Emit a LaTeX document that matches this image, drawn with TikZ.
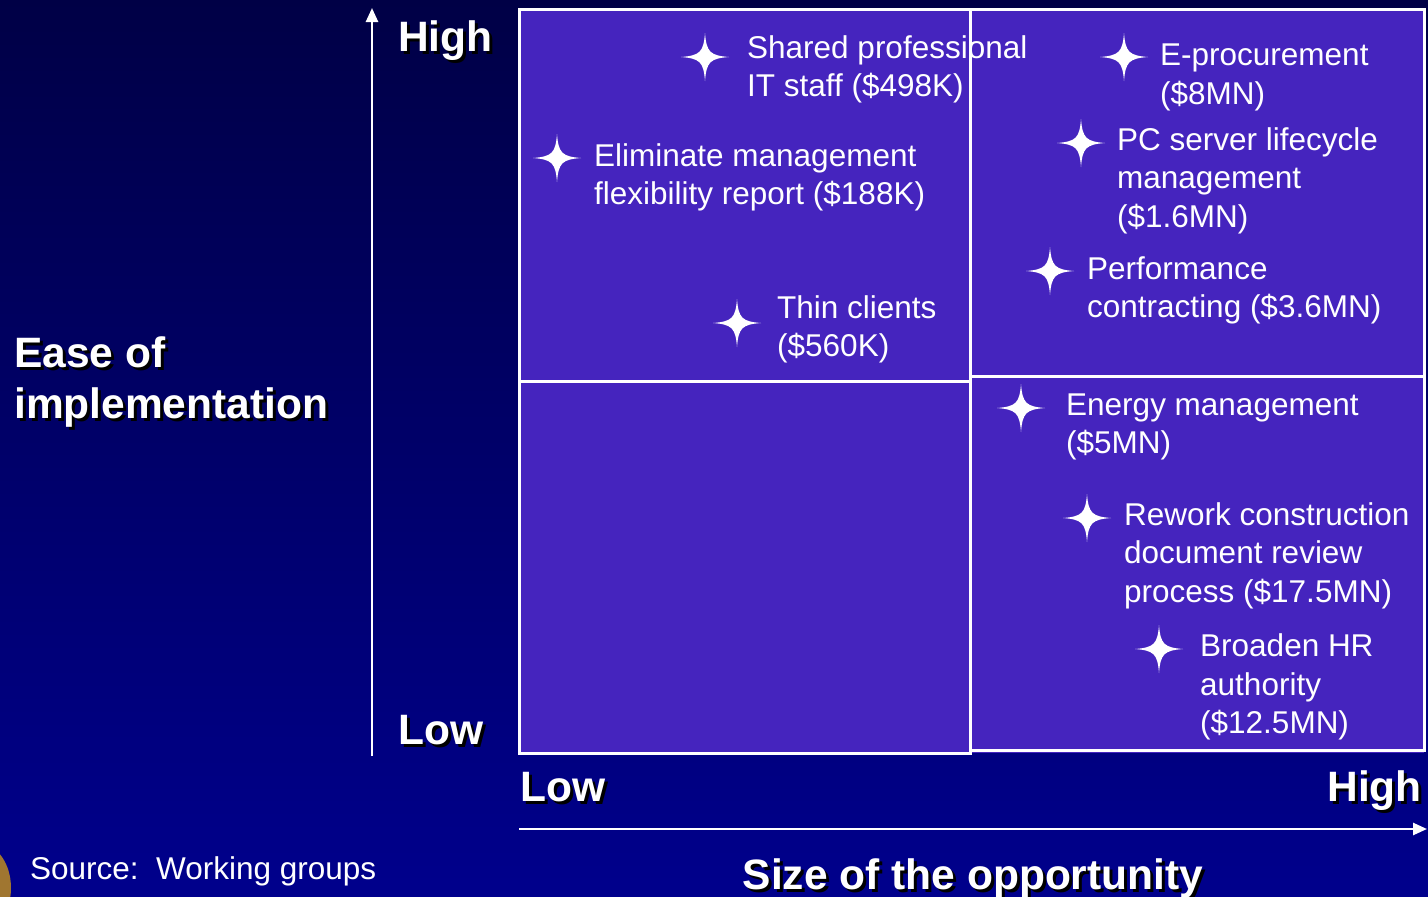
\documentclass[tikz,border=0pt]{standalone}
\usepackage{fontspec}
\setmainfont{Liberation Sans}
\usetikzlibrary{arrows.meta}

\definecolor{quadfill}{RGB}{69,36,190}
\definecolor{bgtop}{RGB}{0,0,70}
\definecolor{bgbot}{RGB}{0,0,140}
\definecolor{cornerbrown}{RGB}{160,118,48}

\tikzset{
  spark/.pic={
    \fill[white] (0,-24) .. controls (1.5,-5) and (5,-1.5) .. (24,0)
      .. controls (5,1.5) and (1.5,5) .. (0,24)
      .. controls (-1.5,5) and (-5,1.5) .. (-24,0)
      .. controls (-5,-1.5) and (-1.5,-5) .. (0,-24) -- cycle;
  },
  item/.style={anchor=base west, inner sep=0pt, align=left, text=white,
    font=\fontsize{31.5}{38.5}\selectfont},
  biglabel/.style={inner sep=0pt, align=left, text=white,
    font=\fontsize{42.5}{51}\selectfont\bfseries},
  quadline/.style={draw=white, line width=3pt},
  axis/.style={draw=white, line width=2.5pt, -{Triangle[length=14pt, width=12pt]}},
}

% bold label with a black drop shadow
\newcommand{\shadowlabel}[4]{%
  \node[biglabel, text=black, anchor=#3, xshift=3pt, yshift=-3pt] at (#2) {#4};
  \node[biglabel, anchor=#3] (#1) at (#2) {#4};}

\begin{document}
\begin{tikzpicture}[x=1pt, y=-1pt]
  \useasboundingbox (0,0) rectangle (1428,897);
  \shade[top color=bgtop, bottom color=bgbot] (0,0) rectangle (1428,897);
  \begin{scope}
    \clip (0,0) rectangle (1428,897);
    \fill[cornerbrown] (-20,888) ellipse [x radius=31, y radius=44];
  \end{scope}

  % quadrants
  \fill[quadfill] (519,9) rectangle (1424,753);

  % top left (anchor is the base of the last line)
  \pic at (705,57) {spark};
  \node[item] (t1) at (747,96.5) {Shared professional\\IT staff (\$498K)};
  \pic at (557,158) {spark};
  \node[item] (t2) at (594,204.5) {Eliminate management\\flexibility report (\$188K)};
  \pic at (737,323) {spark};
  \node[item] (t3) at (777,356.5) {Thin clients\\(\$560K)};

  % top right
  \pic at (1124,57) {spark};
  \node[item] (t4) at (1160,104) {E-procurement\\(\$8MN)};
  \pic at (1081,143) {spark};
  \node[item] (t5) at (1117,227) {PC server lifecycle\\management\\(\$1.6MN)};
  \pic at (1050,271) {spark};
  \node[item] (t6) at (1087,317.5) {Performance\\contracting (\$3.6MN)};

  % bottom right
  \pic at (1021,408) {spark};
  \node[item] (t7) at (1066,453.5) {Energy management\\(\$5MN)};
  \pic at (1087,518) {spark};
  \node[item] (t8) at (1124,602) {Rework construction\\document review\\process (\$17.5MN)};
  \pic at (1159,649) {spark};
  \node[item] (t9) at (1200,733.5) {Broaden HR\\authority\\(\$12.5MN)};

  % grid lines on top
  \draw[quadline] (519,9) rectangle (970,381);
  \draw[quadline] (519,381) rectangle (970,753);
  \draw[quadline] (970,9) rectangle (1424,376);
  \draw[quadline] (970,376) rectangle (1424,750);

  % axes
  \coordinate (ybot) at (372,756);
  \coordinate (ytop) at (372,8);
  \coordinate (xleft) at (519,829);
  \coordinate (xright) at (1427,829);
  \draw[axis] (ybot) -- (ytop);
  \draw[axis] (xleft) -- (xright);

  \shadowlabel{yhigh}{398,51}{base west}{High}
  \shadowlabel{ylow}{398,744}{base west}{Low}
  \shadowlabel{xlow}{520,801}{base west}{Low}
  \shadowlabel{xhigh}{1422,801}{base east}{High}
  \shadowlabel{ytitle}{14,418}{base west}{Ease of\\implementation}
  \shadowlabel{xtitle}{973,889}{base}{Size of the opportunity}

  \node[item] (src) at (30,879) {Source:\ \ Working groups};
\end{tikzpicture}
\end{document}
